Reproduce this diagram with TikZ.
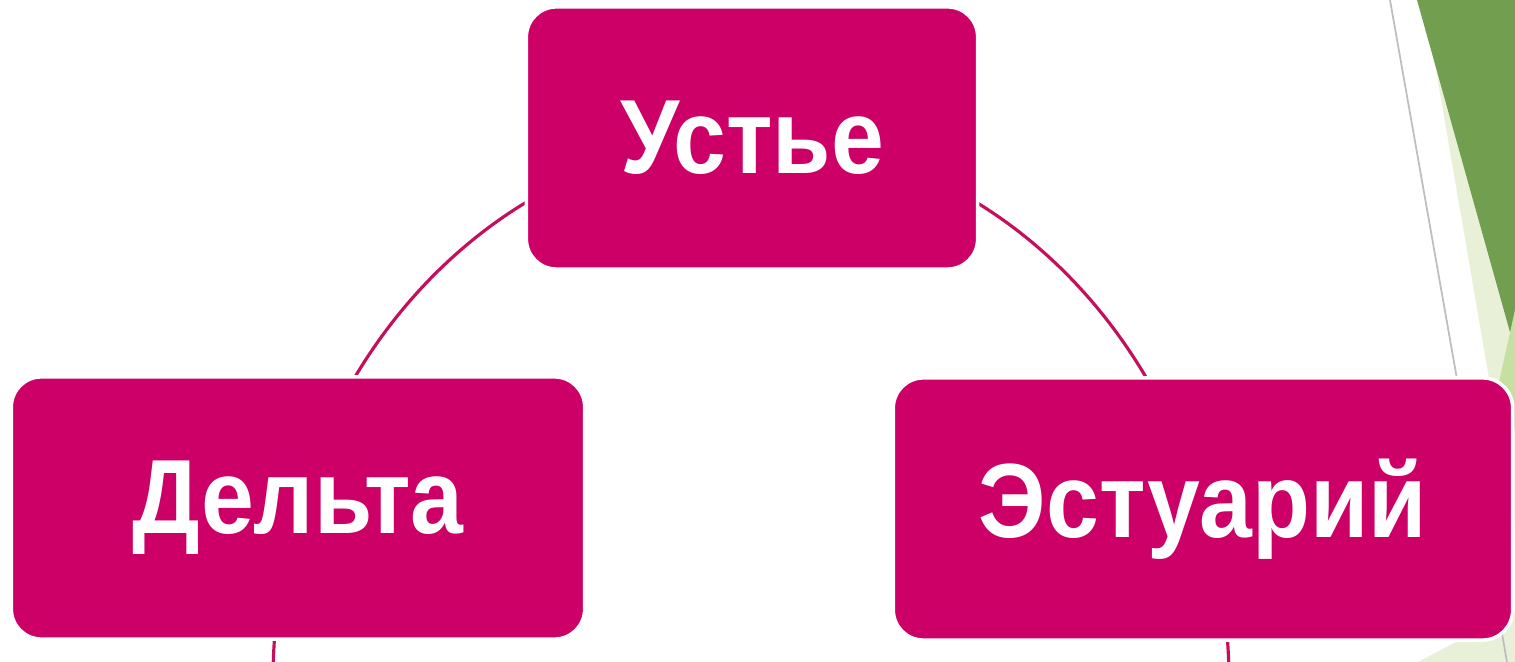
\documentclass[tikz,border=0pt]{standalone}
\usepackage{fontspec}
\newfontfamily\boxfont[FakeStretch=0.9]{Liberation Sans}
\usepackage{tikz}
\usetikzlibrary{backgrounds}

\definecolor{berry}{RGB}{204,0,102}
\definecolor{berryline}{RGB}{196,16,92}
\definecolor{leafdark}{RGB}{113,158,79}
\definecolor{leaflight}{RGB}{232,241,216}
\definecolor{leafmid}{RGB}{197,224,160}
\definecolor{rulegray}{RGB}{190,190,190}

\begin{document}
\begin{tikzpicture}[x=0.01cm, y=-0.01cm,
        blocknode/.style={rectangle, rounded corners=0.3cm, fill=berry, draw=white, line width=1pt,
            text=white, inner sep=0pt, minimum height=2.62cm,
            font=\boxfont\bfseries\fontsize{30}{36}\selectfont},
        ringline/.style={draw=berryline, line width=0.9pt},
        ]
        \useasboundingbox (0,0) rectangle (1515,662);

        %Corner of the slide
        \fill[leaflight] (1424,0) -- (1515,0) -- (1515,530) -- cycle;
        \fill[leaflight] (1418,662) -- (1515,611) -- (1515,662) -- cycle;
        \fill[leafdark]  (1417,0) -- (1515,0) -- (1515,350) -- cycle;
        \fill[leafmid]   (1515,310) -- (1495,400) -- (1515,430) -- cycle;
        \draw[rulegray, line width=0.5pt] (1390,0) -- (1507,662);

        %Nodes
        \node[blocknode, minimum width=4.51cm] (ustye)   at (752,138)  {Устье};
        \node[blocknode, minimum width=5.73cm] (delta)   at (298,508)  {Дельта};
        \node[blocknode, minimum width=6.19cm] (estuary) at (1203,509) {Эстуарий};
        \coordinate (deltaout)   at (273,680);
        \coordinate (estuaryout) at (1229,680);

        %Lines
        \begin{scope}[on background layer]
            \draw[ringline] (delta.center) .. controls +(65,-221) and +(-205,0) .. (ustye.center);
            \draw[ringline] (ustye.center) .. controls +(205,0) and +(-65,-221) .. (estuary.center);
            \draw[ringline] (delta.center) .. controls +(-16,56) and +(0,-58) .. (deltaout);
            \draw[ringline] (estuary.center) .. controls +(16,56) and +(0,-58) .. (estuaryout);
        \end{scope}
    \end{tikzpicture}
\end{document}
